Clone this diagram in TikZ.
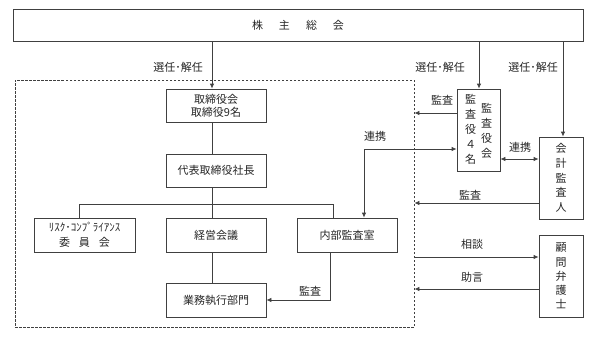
\documentclass[tikz,border=0pt]{standalone}
\usepackage{fontspec}
\setmainfont{Noto Sans CJK JP}
\usetikzlibrary{arrows.meta}
\begin{document}
\begin{tikzpicture}[x=1pt,y=-1pt,
  every node/.style={font=\fontsize{11}{14}\selectfont, text=black!85},
  box/.style={draw=black!75, line width=0.8pt, rectangle, inner sep=0pt, align=center},
  lbl/.style={inner sep=0pt},
  vtext/.style={inner sep=0pt, align=center},
  conn/.style={draw=black!75, line width=0.8pt},
  arr/.style={conn, -{Latex[length=5pt,width=4.5pt]}},
  darr/.style={conn, {Latex[length=5pt,width=4.5pt]}-{Latex[length=5pt,width=4.5pt]}}
]
\useasboundingbox (0,0) rectangle (592,341);
% dashed company frame
\node[draw=black!75, line width=0.8pt, dashed, dash pattern=on 2.5pt off 1.5pt, rectangle, inner sep=0pt,
      minimum width=399pt, minimum height=247pt] (inner) at (214.5,203.5) {};
% boxes
\node[box, minimum width=570pt, minimum height=32pt] (gm) at (298,25)
  {株\hspace{16pt}主\hspace{16pt}総\hspace{16pt}会};
\node[box, minimum width=100pt, minimum height=33pt, fill=white] (board) at (216,105.5)
  {取締役会\\[-1pt]取締役9名};
\node[box, minimum width=100pt, minimum height=33pt] (ceo) at (216,170.5) {代表取締役社長};
\node[box, minimum width=101pt, minimum height=34pt, font=\fontsize{11}{15}\selectfont] (risk) at (84.5,235)
  {ﾘｽｸ･ｺﾝﾌﾟﾗｲｱﾝｽ\\委\hspace{9pt}員\hspace{9pt}会};
\node[box, minimum width=100pt, minimum height=34pt] (keiei) at (216,235) {経営会議};
\node[box, minimum width=100pt, minimum height=34pt] (naibu) at (347,235) {内部監査室};
\node[box, minimum width=100pt, minimum height=34pt] (gyomu) at (216,300) {業務執行部門};
\node[box, minimum width=43pt, minimum height=82pt] (kansa) at (478.5,130) {};
\node[vtext, font=\fontsize{11}{15}\selectfont] (kansaL) at (470.5,129) {監\\査\\役\\４\\名};
\node[vtext, font=\fontsize{11}{15}\selectfont] (kansaR) at (486.5,130.5) {監\\査\\役\\会};
\node[box, minimum width=44pt, minimum height=82pt, font=\fontsize{11}{14.75}\selectfont] (kaikei) at (561,178)
  {会\\計\\監\\査\\人};
\node[box, minimum width=44pt, minimum height=82pt, font=\fontsize{11}{14.2}\selectfont] (komon) at (561,276)
  {顧\\問\\弁\\護\\士};
% coordinates for connector columns
\coordinate (c1) at (212,0);
\coordinate (c2) at (479,0);
\coordinate (c3) at (563,0);
\coordinate (bus) at (0,204);
\coordinate (xr) at (79,0);
\coordinate (xn) at (333,0);
\coordinate (xn2) at (330,0);
\coordinate (xl) at (364,0);
\coordinate (yl) at (0,149);
\coordinate (ya) at (0,113);
\coordinate (yb) at (0,159);
\coordinate (yc) at (0,203);
\coordinate (yd) at (0,257);
\coordinate (ye) at (0,289);
% connectors
\draw[arr] (gm.south -| c1) -- (board.north -| c1);
\draw[arr] (gm.south -| c2) -- (kansa.north -| c2);
\draw[arr] (gm.south -| c3) -- (kaikei.north -| c3);
\draw[conn] (board.south -| c1) -- (ceo.north -| c1);
\draw[conn] (ceo.south -| c1) -- (keiei.north -| c1);
\draw[conn] (risk.north -| xr) |- (bus -| xn) -- (naibu.north -| xn);
\draw[conn] (keiei.south -| c1) -- (gyomu.north -| c1);
\draw[arr] (naibu.south -| xn2) |- (gyomu.east);
\draw[darr] (naibu.north -| xl) |- (kansa.west |- yl);
\draw[arr] (kansa.west |- ya) -- (inner.east |- ya);
\draw[darr] (kansa.east |- yb) -- (kaikei.west |- yb);
\draw[arr] (kaikei.west |- yc) -- (inner.east |- yc);
\draw[arr] (inner.east |- yd) -- (komon.west |- yd);
\draw[arr] (komon.west |- ye) -- (inner.east |- ye);
% labels
\node[lbl] (l1) at (178,67) {選任･解任};
\node[lbl] (l2) at (440,67) {選任･解任};
\node[lbl] (l3) at (533,67) {選任･解任};
\node[lbl] (l4) at (442,100) {監査};
\node[lbl] (l5) at (375,136) {連携};
\node[lbl] (l6) at (520,147) {連携};
\node[lbl] (l7) at (470,195) {監査};
\node[lbl] (l8) at (310,291) {監査};
\node[lbl] (l9) at (472,244) {相談};
\node[lbl] (l10) at (472,277) {助言};
\end{tikzpicture}
\end{document}
